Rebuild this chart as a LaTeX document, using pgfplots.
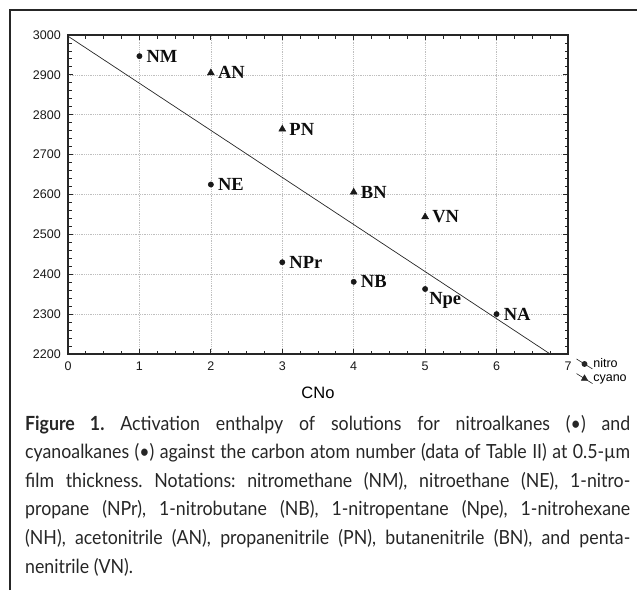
\documentclass[border=0pt]{standalone}
\usepackage{pgfplots}
\pgfplotsset{compat=1.18}
\usepackage{fontspec}
\setmainfont{Liberation Sans}
\newfontfamily\lblfont{Liberation Serif}
\newfontfamily\capfont[FakeStretch=0.91]{Lato}

% nitroalkanes
\pgfplotstableread{
x y lab
1 2947 NM
2 2625 NE
3 2430 NPr
4 2381 NB
6 2300 NA
}\nitro
% cyanoalkanes
\pgfplotstableread{
x y lab
2 2905 AN
3 2764 PN
4 2606 BN
5 2544 VN
}\cyano

\begin{document}
\frenchspacing
\begin{tikzpicture}[x=1pt,y=1pt]
\useasboundingbox (0,0) rectangle (637,590);
\draw[black!85, line width=1.6pt] (10,0) -- (10,580) -- (637,580);
\begin{axis}[
  at={(68pt,236pt)}, anchor=south west,
  scale only axis, width=500pt, height=319pt,
  xmin=0, xmax=7, ymin=2200, ymax=3000,
  xtick distance=1, ytick distance=100,
  minor x tick num=3, minor y tick num=4,
  grid=major,
  major grid style={gray!50, dash pattern=on 1pt off 0.8pt, line width=0.6pt},
  axis line style={black!85, line width=1.2pt},
  major tick length=5pt, minor tick length=3.5pt,
  tick style={black!85, line width=0.9pt},
  tick label style={font=\fontsize{12.5}{14}\selectfont, text=black!90},
  /pgf/number format/assume math mode=true,
  /pgf/number format/1000 sep={},
  yticklabel style={inner sep=0pt, xshift=-7pt},
  xticklabel style={inner sep=0pt, yshift=-8pt},
  xlabel={CNo},
  xlabel style={font=\fontsize{16.5}{18}\selectfont, at={(axis description cs:0.5,0)}, anchor=center, yshift=-39pt},
  legend style={draw=none, fill=none, at={(axis description cs:1,0)}, anchor=north west,
    xshift=8pt, yshift=-4pt, font=\fontsize{12.5}{13}\selectfont, inner sep=0pt,
    row sep=3.5pt, column sep=0pt, nodes={inner sep=0.5pt}},
  legend cell align=left,
  legend image code/.code={\draw[mark repeat=2, mark phase=2, #1] plot coordinates {(0pt,5pt) (8pt,0pt) (16pt,-5pt)};},
  nodes near coords style={font=\lblfont\bfseries\fontsize{18.5}{20}\selectfont, text=black!95},
]
\addplot[black!85, line width=0.7pt, forget plot] coordinates {(0,2997) (6.75,2200)};

\addplot[only marks, mark=*, mark size=2.7pt, black!90, forget plot,
  point meta=explicit symbolic, nodes near coords,
  nodes near coords style={anchor=west, inner sep=0pt, xshift=7pt}]
  table[x=x, y=y, meta=lab] {\nitro};
\addplot[only marks, mark=*, mark size=2.7pt, black!90, forget plot,
  point meta=explicit symbolic, nodes near coords,
  nodes near coords style={anchor=north west, inner sep=0pt, xshift=4pt, yshift=-3pt}]
  coordinates {(5,2363) [Npe]};
\addplot[only marks, mark=triangle*, mark size=4pt, black!90, forget plot,
  point meta=explicit symbolic, nodes near coords,
  nodes near coords style={anchor=west, inner sep=0pt, xshift=7pt}]
  table[x=x, y=y, meta=lab] {\cyano};

\addlegendimage{black!85, line width=0.6pt, mark=*, mark size=2.6pt}
\addlegendentry{nitro}
\addlegendimage{black!85, line width=0.6pt, mark=triangle*, mark size=3.6pt}
\addlegendentry{cyano}
\end{axis}

\begin{scope}[every node/.style={anchor=base west, inner sep=0pt, text=black!85}]
\def\cf{\capfont\fontsize{19.5}{28.6}\selectfont}
\node at (25,160) {\cf\makebox[605pt][s]{\textbf{Figure 1.} Activation enthalpy of solutions for nitroalkanes (•) and}};
\node at (25,131.4) {\cf\makebox[605pt][s]{cyanoalkanes (•) against the carbon atom number (data of Table II) at 0.5-µm}};
\node at (25,102.8) {\cf\makebox[605pt][s]{film thickness. Notations: nitromethane (NM), nitroethane (NE), 1-nitro-}};
\node at (25,74.2) {\cf\makebox[605pt][s]{propane (NPr), 1-nitrobutane (NB), 1-nitropentane (Npe), 1-nitrohexane}};
\node at (25,45.6) {\cf\makebox[605pt][s]{(NH), acetonitrile (AN), propanenitrile (PN), butanenitrile (BN), and penta-}};
\node at (25,17) {\cf nenitrile (VN).};
\end{scope}
\end{tikzpicture}
\end{document}
